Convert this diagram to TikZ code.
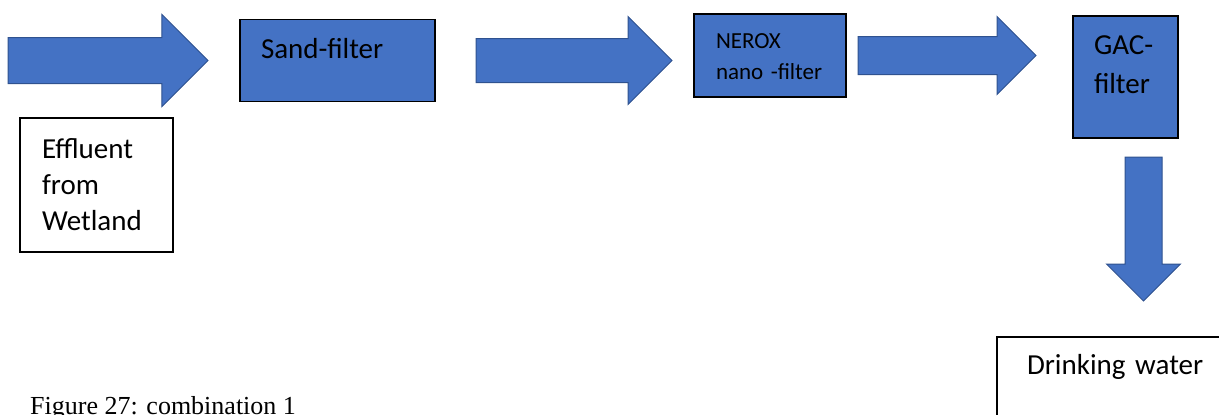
\documentclass[tikz,border=0pt]{standalone}
\usepackage{fontspec}
\setmainfont{Carlito}
\newfontfamily\capfont{Liberation Serif}
\usepackage{xcolor}
\usetikzlibrary{shapes,arrows,positioning}
\definecolor{office}{RGB}{68,114,196}
\definecolor{arrowline}{RGB}{47,82,143}

\begin{document}
\begin{tikzpicture}[x=1pt, y=1pt, node distance=32pt,
	flow/.style={single arrow, draw=arrowline, fill=office, line width=1pt, inner xsep=0pt, outer sep=0pt, single arrow head indent=0pt, single arrow tip angle=90},
	unit/.style={rectangle, draw=black, fill=office, line width=1.5pt, inner ysep=0pt, outer sep=0pt, align=left},
	plain/.style={rectangle, draw=black, fill=white, line width=1.5pt, inner ysep=0pt, outer sep=0pt, align=left},
	big/.style={font=\fontsize{29}{36}\selectfont},
	small/.style={font=\fontsize{23}{32}\selectfont}]
	\useasboundingbox (0,0) rectangle (1219,-415);
	\clip (0,0) rectangle (1219,-415);

	\node[flow, minimum height=200pt, inner ysep=22.5pt, single arrow head extend=23pt] (a1) at (8,-60.5) [anchor=tail] {};
	\node[unit, big, text width=153pt, inner xsep=21pt, text height=39pt, text depth=43pt] (sand) [right=32pt of a1.tip] {Sand-filter};
	\node[flow, minimum height=196pt, inner ysep=21.5pt, single arrow head extend=22pt] (a2) [right=41pt of sand.east, anchor=tail] {};
	\node[unit, small, text width=108pt, inner xsep=22pt, text height=34pt, text depth=49pt] (nerox) [right=22pt of a2.tip, yshift=5pt] {NEROX\\\mbox{nano -filter}};
	\node[flow, minimum height=178pt, inner ysep=18.5pt, single arrow head extend=20pt] (a3) [right=12pt of nerox.east, anchor=tail] {};
	\node[unit, font=\fontsize{29}{38.5}\selectfont, text width=63pt, inner xsep=21pt, text height=38.5pt, text depth=83.5pt] (gac) [right=37pt of a3.tip, yshift=-21.5pt] {GAC-\\filter};
	\node[flow, minimum height=144pt, inner xsep=18pt, inner ysep=0pt, single arrow head extend=18.5pt, shape border rotate=270] (a4) [below=19pt of gac.south, anchor=tail, xshift=18pt] {};

	\node[plain, big, text width=109pt, inner xsep=22pt, text height=40.5pt, text depth=93.5pt] (eff) at (20,-118) [anchor=north west] {Effluent\\from\\Wetland};
	\node[plain, big, text width=203pt, inner xsep=30pt, text height=37pt, text depth=76pt] (drink) at (997,-337) [anchor=north west] {Drinking water};

	\node[inner sep=0pt, font=\capfont\fontsize{26}{30}\selectfont] (cap) at (30,-414) [anchor=base west] {Figure 27: combination 1};

\end{tikzpicture}
\end{document}
